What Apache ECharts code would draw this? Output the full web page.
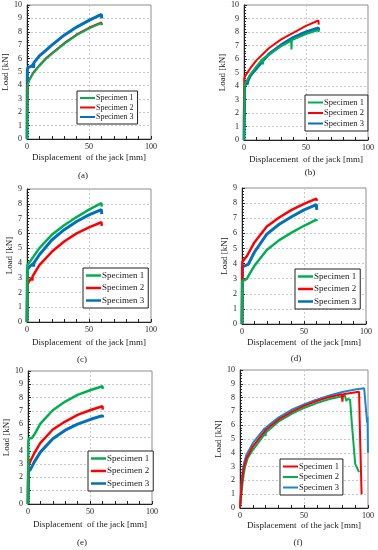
<!DOCTYPE html>
<html>
<head>
<meta charset="utf-8">
<script src="https://cdn.jsdelivr.net/npm/echarts@6/dist/echarts.min.js"></script>
<style>
html,body{margin:0;padding:0;background:#fff;}
#chart{width:378px;height:550px;}
</style>
</head>
<body>
<div id="chart"></div>
<script>
// ---- Data (displacement [mm], load [kN]) ----
var panelLabels = ['(a)', '(b)', '(c)', '(d)', '(e)', '(f)'];
var seriesNames = ['Specimen 1', 'Specimen 2', 'Specimen 3'];
var yMaxes = [10, 10, 9, 9, 10, 10];

var a_spec1 = [[0,0],[0.3,4.0],[1,4.15],[2,4.4],[5,4.9],[10,5.45],[15,5.95],[20,6.35],[30,7.1],[40,7.75],[50,8.25],[60,8.65],[60.3,8.5]];
var a_spec2 = [[0,0],[0.3,4.1],[1,4.25],[2,4.45],[5,4.95],[10,5.5],[15,6.0],[20,6.4],[30,7.15],[40,7.8],[50,8.3],[60,8.7],[60.3,8.5]];
var a_spec3 = [[0,0],[0.3,5.2],[1,5.35],[4,5.45],[5,5.6],[5.3,5.3],[5.6,5.7],[10,6.2],[15,6.6],[20,7.0],[30,7.75],[40,8.35],[50,8.85],[60,9.3],[60.3,9.0]];

var b_spec1 = [[0,0],[0.5,4.1],[2,4.35],[5,4.85],[10,5.45],[15,6.0],[15.3,5.6],[15.6,6.05],[20,6.3],[30,6.95],[38,7.35],[38.3,6.7],[38.6,7.4],[40,7.45],[50,7.85],[60,8.15],[60.3,8.0]];
var b_spec2 = [[0,0],[0.3,4.6],[1,4.75],[5,5.3],[10,5.9],[20,6.8],[30,7.45],[40,7.95],[50,8.45],[60,8.85],[60.3,8.55]];
var b_spec3 = [[0,0],[0.5,4.0],[2,4.25],[2.5,4.1],[3,4.35],[5,4.75],[10,5.3],[15,5.85],[20,6.35],[30,7.05],[40,7.6],[50,8.0],[60,8.3],[60.3,8.1]];

var c_spec1 = [[0,0],[0.3,3.85],[2,4.05],[5,4.4],[10,5.0],[20,5.9],[30,6.55],[40,7.1],[50,7.6],[60,8.05],[60.3,7.8]];
var c_spec2 = [[0,0],[0.3,2.55],[2,2.8],[4,3.0],[4.3,2.8],[4.6,3.1],[10,3.85],[20,4.75],[30,5.45],[40,6.0],[50,6.4],[60,6.75],[60.3,6.5]];
var c_spec3 = [[0,0],[0.3,3.55],[2,3.75],[5,3.95],[5.3,3.75],[5.6,4.0],[10,4.55],[20,5.55],[30,6.25],[40,6.8],[50,7.25],[60,7.6],[60.3,7.3]];

var d_spec1 = [[0,0],[0.3,2.85],[2,2.9],[4,3.0],[6,3.3],[10,3.85],[20,4.9],[30,5.55],[40,6.05],[50,6.5],[60,6.9],[60.3,6.8]];
var d_spec2 = [[0,0],[0.3,4.1],[2,4.3],[4,4.5],[5,4.6],[10,5.4],[20,6.45],[30,7.05],[40,7.55],[50,7.95],[60,8.3],[60.3,8.15]];
var d_spec3 = [[0,0],[0.3,3.75],[2,3.85],[5,3.95],[10,4.75],[20,5.95],[30,6.6],[40,7.1],[50,7.55],[60,7.9],[60.3,7.55]];

var e_spec1 = [[0,0],[0.3,4.7],[1,4.95],[2,4.85],[3,4.95],[5,5.2],[10,6.05],[20,7.05],[30,7.7],[40,8.2],[50,8.55],[60,8.85],[60.3,8.65]];
var e_spec2 = [[0,0],[0.3,2.85],[2,3.25],[5,3.8],[10,4.6],[20,5.6],[30,6.2],[40,6.7],[50,7.05],[60,7.35],[60.3,7.1]];
var e_spec3 = [[0,0],[0.3,2.45],[2,2.6],[3,2.75],[5,3.15],[10,3.9],[20,4.9],[30,5.55],[40,6.0],[50,6.35],[60,6.65],[60.3,6.5]];

var f_spec1 = [[0,0],[1,1.3],[2,2.3],[3,2.9],[5,3.6],[10,4.45],[20,5.65],[30,6.4],[40,6.95],[50,7.4],[60,7.75],[70,8.05],[79.5,8.25],[80,7.7],[80.5,8.25],[93,8.43],[94,4.5],[95,1.0]];
var f_spec2 = [[0,0],[1,0.9],[2,1.8],[3,2.5],[4,3.0],[6,3.6],[10,4.2],[20,5.45],[30,6.25],[40,6.8],[50,7.25],[60,7.6],[70,7.9],[80,8.1],[82,8.15],[83,7.75],[84,7.9],[86,7.85],[87.5,6.0],[89,4.3],[90,3.2],[91.5,3.1],[93,2.6]];
var f_spec3 = [[0,0],[1,1.6],[2,2.6],[3,3.2],[5,3.85],[10,4.7],[19.5,5.8],[20,5.2],[20.5,5.85],[30,6.55],[40,7.1],[50,7.5],[59.5,7.85],[60,7.7],[60.5,7.87],[70,8.15],[80,8.4],[90,8.58],[97,8.68],[99.3,6.2],[99.6,6.6],[100,4.0]];

var panelData = [
  [a_spec1, a_spec2, a_spec3],
  [b_spec1, b_spec2, b_spec3],
  [c_spec1, c_spec2, c_spec3],
  [d_spec1, d_spec2, d_spec3],
  [e_spec1, e_spec2, e_spec3],
  [f_spec1, f_spec2, f_spec3]
];

// ---- Styling / layout ----
var GREEN = '#00b050', RED = '#ff0000', BLUE = '#0070c0', LBLUE = '#1a86d6';
var panelColors = [
  [GREEN, RED, BLUE],[GREEN, RED, BLUE],[GREEN, RED, BLUE],
  [GREEN, RED, BLUE],[GREEN, RED, BLUE],[RED, GREEN, LBLUE]
];
var panelWidths = [
  [2, 2, 3],[2, 2, 3],[2.5, 2.5, 3],[2.5, 2.5, 3],[2.5, 2.5, 3],[2, 2, 2]
];
var FONT = "'Liberation Serif','Times New Roman',serif";
var layout = [
  {l:27, t:5,   w:124, h:134, xGap:14.5, yGap:15, cx:83,  cy:176, lg:{l:77, t:91,  gap:1.5, fs:8}},
  {l:244,t:5,   w:124, h:135, xGap:15,   yGap:17, cx:310, cy:173, lg:{l:305,t:95,  gap:1.5, fs:8.5}},
  {l:27, t:189, w:124, h:133, xGap:16,   yGap:11.5,cx:82, cy:360, lg:{l:83, t:268, gap:3.5, fs:9}},
  {l:242,t:188, w:124, h:136, xGap:14.5, yGap:10, cx:296,cy:359, lg:{l:295,t:269, gap:3.5, fs:9}},
  {l:28, t:371, w:124, h:133, xGap:16,   yGap:14.5,cx:82, cy:543, lg:{l:88, t:451, gap:3.5, fs:9}},
  {l:240,t:370, w:128, h:138, xGap:11.5, yGap:13.5,cx:298,cy:543, lg:{l:280,t:459, gap:1.5, fs:8.5}}
];

var grids = [], xAxes = [], yAxes = [], series = [], legends = [], titles = [];
layout.forEach(function(L, i){
  grids.push({left:L.l, top:L.t, width:L.w, height:L.h, show:true, borderColor:'#8c8c8c', borderWidth:1, backgroundColor:'#fff', containLabel:false});
  xAxes.push({
    gridIndex:i, type:'value', min:0, max:100, interval:50,
    name:'Displacement  of the jack [mm]', nameLocation:'middle', nameGap:L.xGap,
    nameTextStyle:{fontFamily:FONT, fontSize:9, color:'#222'},
    axisLine:{show:true, onZero:false, lineStyle:{color:'#222', width:1}},
    axisTick:{show:true, inside:true, length:3, lineStyle:{color:'#222'}},
    minorTick:{show:true, splitNumber:5, length:3, lineStyle:{color:'#222'}},
    axisLabel:{fontFamily:FONT, fontSize:8, color:'#222', margin:4},
    splitLine:{show:true, lineStyle:{color:'#c8c8c8', type:[2,2], width:1}}
  });
  yAxes.push({
    gridIndex:i, type:'value', min:0, max:yMaxes[i], interval:1,
    name:'Load [kN]', nameLocation:'middle', nameGap:L.yGap, nameRotate:90,
    nameTextStyle:{fontFamily:FONT, fontSize:9, color:'#222'},
    axisLine:{show:true, onZero:false, lineStyle:{color:'#222', width:1}},
    axisTick:{show:true, inside:true, length:3, lineStyle:{color:'#222'}},
    minorTick:{show:true, splitNumber:5, length:2, lineStyle:{color:'#222'}},
    axisLabel:{fontFamily:FONT, fontSize:8, color:'#222', margin:5},
    splitLine:{show:true, lineStyle:{color:'#c8c8c8', type:[2,2], width:1}}
  });
  var legendData = [];
  panelData[i].forEach(function(d, k){
    series.push({
      type:'line', name:seriesNames[k], xAxisIndex:i, yAxisIndex:i,
      data:d, symbol:'none', animation:false,
      lineStyle:{color:panelColors[i][k], width:panelWidths[i][k]},
      itemStyle:{color:panelColors[i][k]},
      z: 10 - k
    });
    legendData.push({name:seriesNames[k], icon:'rect', itemStyle:{color:panelColors[i][k]}});
  });
  legends.push({
    left:L.lg.l, top:L.lg.t, orient:'vertical', data:legendData,
    itemWidth:15, itemHeight:panelWidths[i][0] >= 2.5 ? 2.5 : 2, itemGap:L.lg.gap,
    padding:[3,4,3,3], borderColor:'#222', borderWidth:1, backgroundColor:'#fff',
    selectedMode:false,
    textStyle:{fontFamily:FONT, fontSize:L.lg.fs, color:'#222', padding:[0,0,0,-4]}
  });
  titles.push({
    text:panelLabels[i], left:L.cx, top:L.cy - 5, textAlign:'center', padding:0,
    textStyle:{fontFamily:FONT, fontSize:9, fontWeight:'normal', color:'#222'}
  });
});

var chart = echarts.init(document.getElementById('chart'), null, {renderer:'canvas'});
chart.setOption({
  animation:false,
  backgroundColor:'#fff',
  title:titles,
  legend:legends,
  grid:grids,
  xAxis:xAxes,
  yAxis:yAxes,
  series:series
});
</script>
</body>
</html>
